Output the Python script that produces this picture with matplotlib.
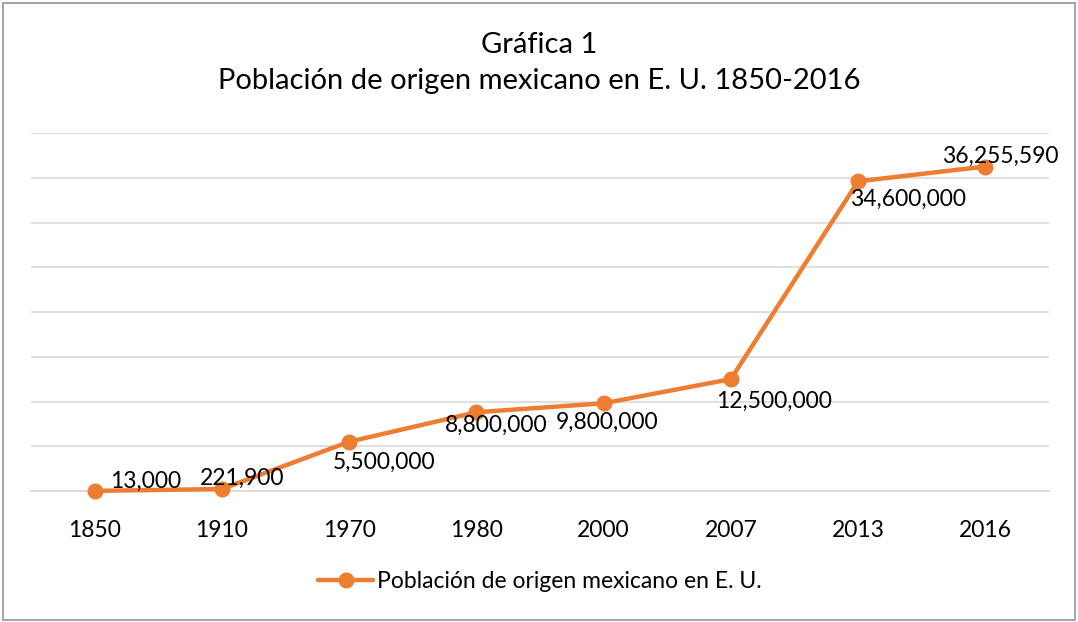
import matplotlib
matplotlib.use("Agg")
import matplotlib.pyplot as plt
from matplotlib.patches import Rectangle

years = ["1850", "1910", "1970", "1980", "2000", "2007", "2013", "2016"]
values = [13000, 221900, 5500000, 8800000, 9800000, 12500000, 34600000, 36255590]
series_name = "Población de origen mexicano en E. U."
title_lines = ["Gráfica 1", "Población de origen mexicano en E. U. 1850-2016"]

# label offsets in pixels (dx, dy)
offsets = [(15, 10), (-22, 11), (-16, -21), (-32, -13), (-48, -19), (-15, -22), (-8, -18), (-43, 10)]

plt.rcParams['font.family'] = ['Lato', 'DejaVu Sans']

W, H = 1078, 622
fig = plt.figure(figsize=(W/100, H/100), dpi=100)
ax = fig.add_axes([31/W, 131/H, (1049-31)/W, (491-133)/H])

orange = "#ED7D31"
x = list(range(len(years)))
ax.plot(x, values, color=orange, lw=3.2, marker='o', ms=10.5, label=series_name,
        solid_capstyle='round', zorder=3, clip_on=False)

for xi, v, (dx, dy) in zip(x, values, offsets):
    ax.annotate(f"{v:,}", (xi, v), xytext=(dx, dy), textcoords='offset pixels',
                ha='left', va='center', fontsize=16.5, color='#000000', zorder=4)

ax.set_xlim(-0.5, len(years) - 0.5)
ax.set_ylim(0, 40000000)
ax.set_yticks(range(0, 40000001, 5000000))
ax.set_yticklabels([])
ax.tick_params(axis='y', length=0)
ax.grid(axis='y', color='#d9d9d9', lw=1.2)
ax.set_axisbelow(True)
ax.set_xticks(x)
ax.set_xticklabels(years, fontsize=16.5)
ax.tick_params(axis='x', length=0, pad=21)
for s in ['top', 'right', 'left']:
    ax.spines[s].set_visible(False)
ax.spines['bottom'].set_color('#d9d9d9')
ax.spines['bottom'].set_linewidth(1.2)

fig.text(0.5, 1 - 45/H, title_lines[0], ha='center', va='center', fontsize=21)
fig.text(0.5, 1 - 81/H, title_lines[1], ha='center', va='center', fontsize=21)

leg = fig.legend(loc='center', bbox_to_anchor=(540/W, 1 - 582/H), frameon=False,
                 fontsize=16.5, handlelength=2.4, handletextpad=0.15)

fig.patches.append(Rectangle((2.5/W, 2/H), (1075 - 2.5)/W, (619 - 2)/H,
                             transform=fig.transFigure, fill=False,
                             edgecolor='#a6a6a6', lw=1.5))

fig.savefig("out.png", dpi=100)
